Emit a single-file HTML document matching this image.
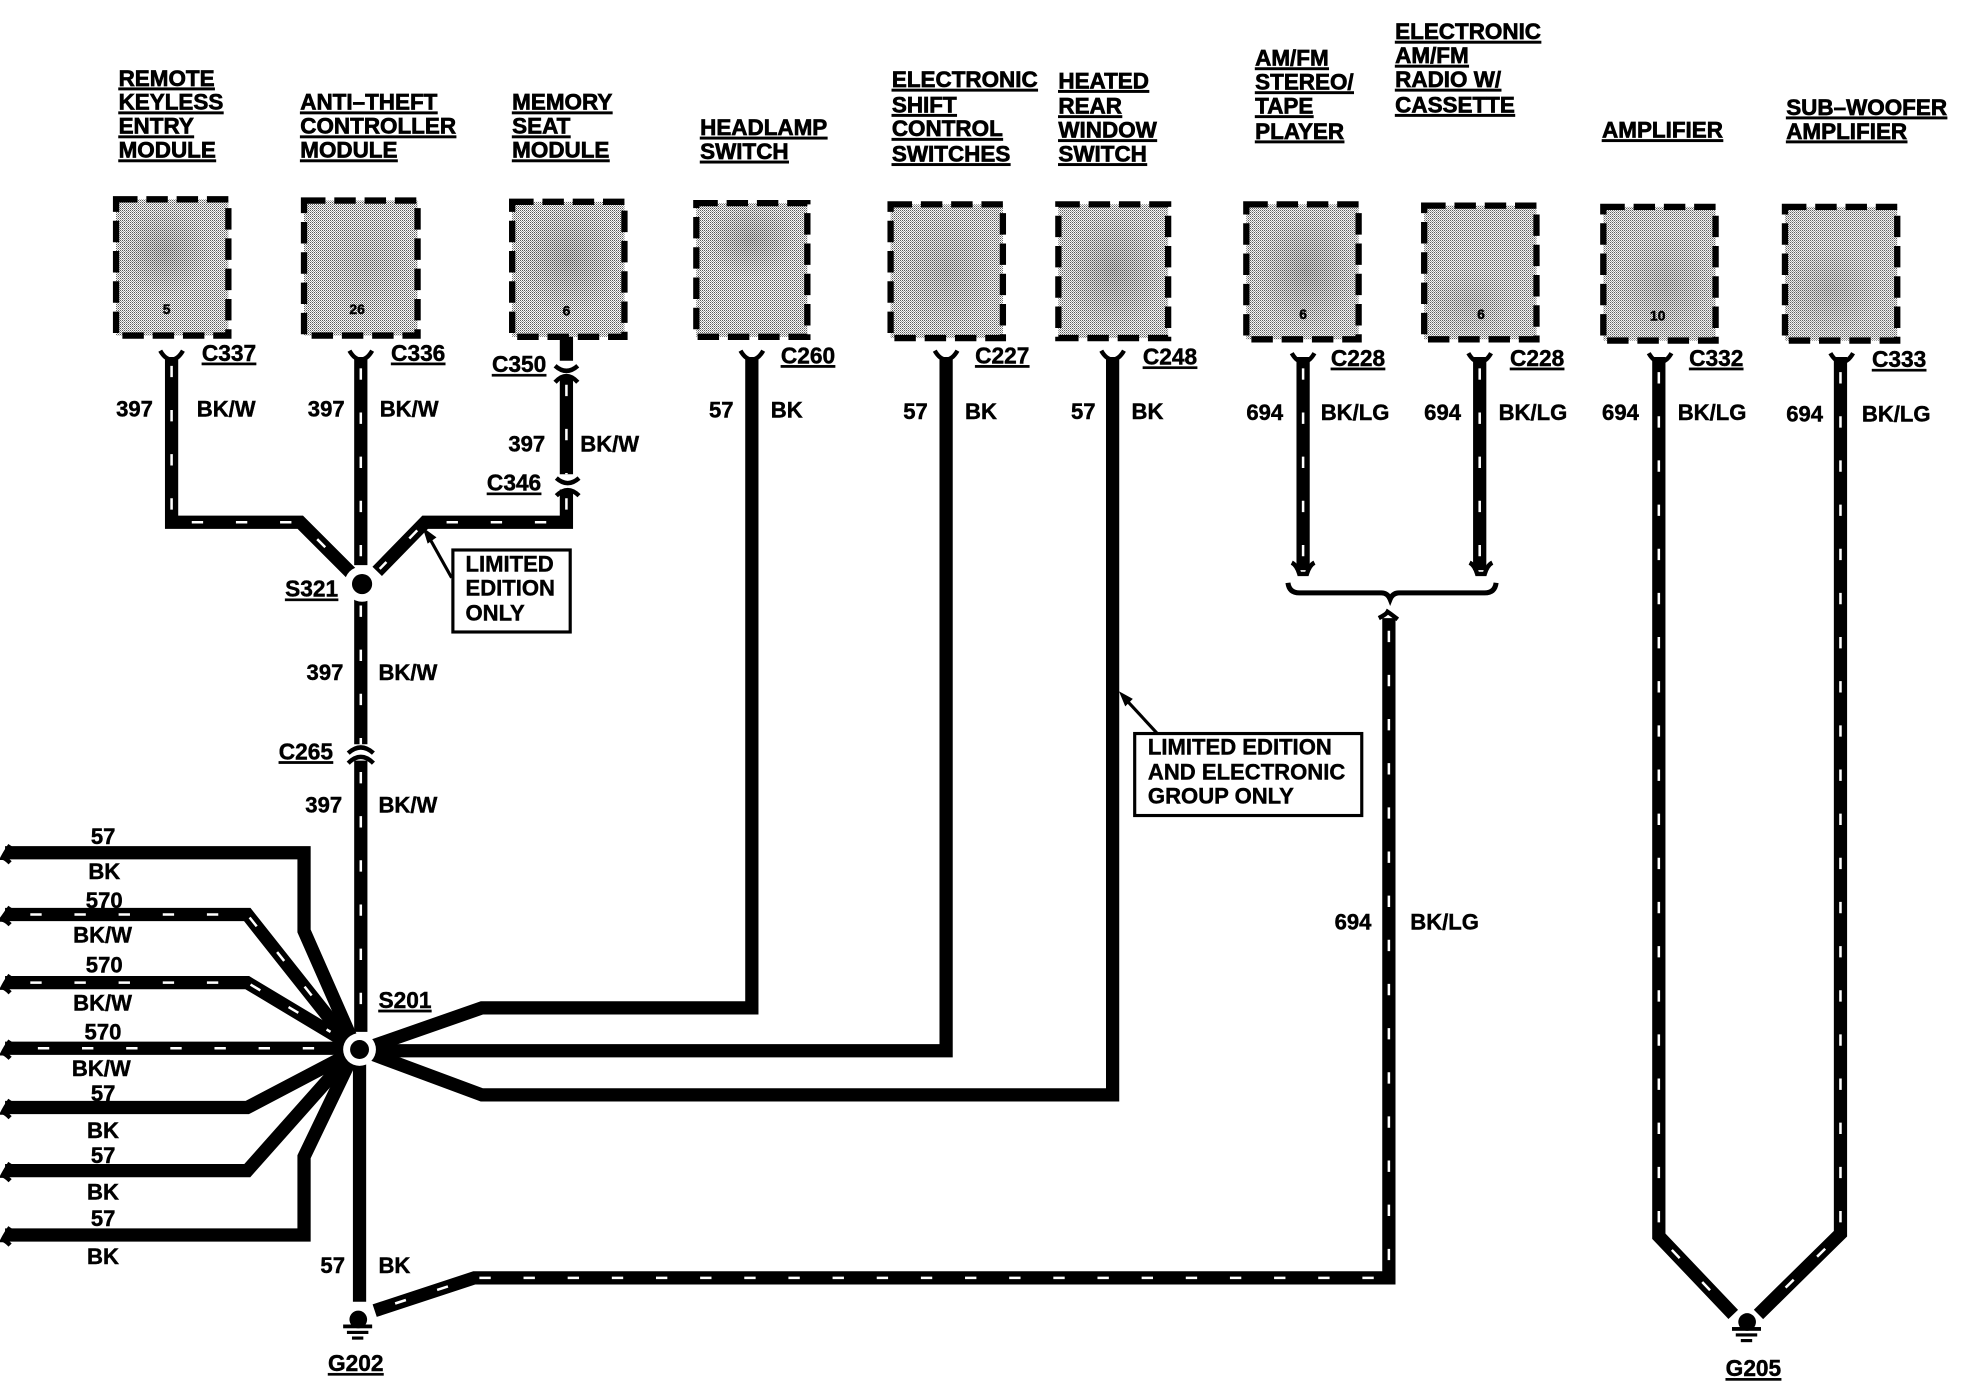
<!DOCTYPE html>
<html><head><meta charset="utf-8"><style>
html,body{margin:0;padding:0;background:#fff;width:1978px;height:1392px;overflow:hidden}
svg{display:block}
text{font-family:"Liberation Sans",sans-serif;font-weight:bold;fill:#000;stroke:#000;stroke-width:.35}
.h{font-size:17.8px;text-decoration:underline;stroke-width:.55}
.c{font-size:18px;text-decoration:underline}
.l{font-size:17.5px}
.n{font-size:11px}
.w{fill:none;stroke:#000;stroke-width:10.5;stroke-linejoin:miter}
.t{fill:none;stroke:#fff;stroke-width:2;stroke-dasharray:9 26}
.b{fill:url(#ht);stroke:#000;stroke-width:5;stroke-dasharray:17 7}
.f{fill:none;stroke:#000;stroke-width:3.5}
</style></head><body>
<svg xmlns="http://www.w3.org/2000/svg" width="1978" height="1392" viewBox="0 0 1568 1103.5">
<defs>
<pattern id="ht" patternUnits="userSpaceOnUse" width="1.5854" height="1.5854">
<rect width="1.5854" height="1.5854" fill="#fff"/>
<rect width=".7927" height=".7927" fill="#555"/>
<rect x=".7927" y=".7927" width=".7927" height=".7927" fill="#999"/>
</pattern>
<radialGradient id="m"><stop offset="0" stop-color="#000" stop-opacity=".17"/><stop offset="1" stop-color="#000" stop-opacity="0"/></radialGradient>
<g id="fork"><path class="f" d="M-9 -5 Q-5 2 0 2 Q5 2 9 -5"/></g>
</defs>
<rect width="1568" height="1104" fill="#fff"/>

<!-- module boxes -->
<rect class="b" x="92" y="158" width="89" height="108"/>
<rect class="b" x="241" y="159" width="90" height="107"/>
<rect class="b" x="406" y="160" width="89" height="107"/>
<rect class="b" x="552" y="161" width="88" height="106"/>
<rect class="b" x="706" y="162" width="89" height="106"/>
<rect class="b" x="839" y="162" width="87" height="106"/>
<rect class="b" x="988" y="162" width="89" height="107"/>
<rect class="b" x="1129" y="163" width="89" height="106"/>
<rect class="b" x="1271" y="164" width="89" height="106"/>
<rect class="b" x="1415" y="164" width="89" height="106"/>
<ellipse cx="130" cy="200" rx="36" ry="36" fill="url(#m)"/>
<ellipse cx="290" cy="210" rx="38" ry="40" fill="url(#m)" opacity=".5"/>
<ellipse cx="450" cy="205" rx="42" ry="44" fill="url(#m)"/>
<ellipse cx="595" cy="190" rx="36" ry="30" fill="url(#m)"/>
<ellipse cx="750" cy="215" rx="40" ry="48" fill="url(#m)" opacity=".7"/>
<ellipse cx="882" cy="215" rx="40" ry="48" fill="url(#m)"/>
<ellipse cx="1035" cy="215" rx="40" ry="48" fill="url(#m)"/>
<ellipse cx="1165" cy="240" rx="36" ry="28" fill="url(#m)" opacity=".6"/>
<ellipse cx="1320" cy="225" rx="38" ry="42" fill="url(#m)" opacity=".7"/>
<ellipse cx="1450" cy="230" rx="38" ry="36" fill="url(#m)" opacity=".7"/>

<!-- wires -->
<path class="w" d="M136 283 V414 H238 L278 454"/>
<path class="w" d="M286 283 V448"/>
<path class="w" d="M286 475 V590"/>
<path class="w" d="M286 603 V818"/>
<path class="w" d="M449 267 V286"/>
<path class="w" d="M449 298 V376"/>
<path class="w" d="M449 388 V414 H337 L299 453"/>
<path class="w" d="M596 283 V799 H382 L296 829"/>
<path class="w" d="M750 283 V833 H296"/>
<path class="w" d="M882 283 V868 H382 L296 836"/>
<path class="w" d="M1033 283 V452"/>
<path class="w" d="M1173 283 V452"/>
<path class="w" d="M1315 283 V980 L1374 1042"/>
<path class="w" d="M1459 283 V978 L1394 1042"/>
<path class="w" d="M1101 490 V1013 H376 L297 1039"/>
<path class="w" d="M285 843 V1032"/>
<path class="w" d="M4 676 H241 V738 L278 822"/>
<path class="w" d="M4 725 H196 L276 826"/>
<path class="w" d="M4 779 H196 L276 827"/>
<path class="w" d="M4 831 H276"/>
<path class="w" d="M4 878 H196 L276 836"/>
<path class="w" d="M4 928 H196 L276 838"/>
<path class="w" d="M4 979 H241 V917 L278 840"/>

<!-- tracer ticks -->
<path class="t" d="M136 290 V414 H238 L276 452"/>
<path class="t" d="M286 292 V448"/>
<path class="t" d="M286 480 V590"/>
<path class="t" d="M286 612 V805"/>
<path class="t" d="M449 305 V376"/>
<path class="t" d="M449 395 V414 H337 L301 451"/>
<path class="t" d="M1033 292 V448"/>
<path class="t" d="M1173 292 V448"/>
<path class="t" d="M1315 295 V980 L1370 1038"/>
<path class="t" d="M1459 295 V978 L1398 1038"/>
<path class="t" d="M1101 500 V1013 H376 L305 1036"/>
<path class="t" d="M24 725 H196 L262 808"/>
<path class="t" d="M24 779 H196 L262 818"/>
<path class="t" d="M30 831 H262"/>

<!-- connector forks -->
<use href="#fork" x="136" y="283"/><use href="#fork" x="286" y="283"/><use href="#fork" x="596" y="283"/>
<use href="#fork" x="750" y="283"/><use href="#fork" x="882" y="283"/><use href="#fork" x="1033" y="285"/>
<use href="#fork" x="1173" y="285"/><use href="#fork" x="1316" y="285"/><use href="#fork" x="1460" y="285"/>
<path class="f" d="M440 290 Q449 298 458 290"/><path class="f" d="M440 303 Q449 293 458 303"/>
<path class="f" d="M441 379 Q450 387 459 379"/><path class="f" d="M441 393 Q450 384 459 393"/>
<path class="f" d="M276 597 Q286 588 296 597"/><path class="f" d="M276 605 Q286 595 296 605"/>
<path class="f" d="M1024 446 Q1028 448 1030 455 H1036 Q1038 448 1042 446"/>
<path class="f" d="M1165 446 Q1169 448 1171 455 H1177 Q1179 448 1183 446"/>
<path d="M1021 462 Q1022 470 1030 470 H1095 Q1100 470 1102 475 Q1104 470 1109 470 H1177 Q1185 470 1186 462" fill="none" stroke="#000" stroke-width="4"/>
<path class="f" d="M1093 490 Q1099 487 1100 485 Q1103 487 1108 491"/>

<!-- left wire ends -->
<path class="f" d="M8 670 Q4 676 2 680 Q4 680 8 684"/><path class="f" d="M8 719 Q4 725 1 729 Q4 729 8 733"/>
<path class="f" d="M8 773 Q4 779 2 783 Q4 783 8 787"/><path class="f" d="M8 825 Q4 831 2 835 Q4 835 8 839"/>
<path class="f" d="M8 872 Q4 878 2 882 Q4 882 8 886"/><path class="f" d="M8 922 Q4 928 2 932 Q4 932 8 936"/>
<path class="f" d="M8 973 Q4 979 2 983 Q4 983 8 987"/>

<!-- splices -->
<circle cx="287" cy="463" r="14" fill="#fff"/><circle cx="287" cy="463" r="8" fill="#000"/>
<circle cx="285" cy="832" r="13" fill="#fff"/><circle cx="285" cy="832" r="7.5" fill="#000"/>

<!-- grounds -->
<circle cx="284" cy="1046" r="7" fill="#000"/><rect x="272" y="1050" width="23" height="3"/><rect x="275" y="1055" width="17" height="2.5"/><rect x="279" y="1059.5" width="9" height="2.5"/>
<circle cx="1385" cy="1048" r="7" fill="#000"/><rect x="1373" y="1052" width="23" height="3"/><rect x="1376" y="1057" width="17" height="2.5"/><rect x="1380" y="1061.5" width="9" height="2.5"/>

<!-- callouts -->
<rect x="359" y="436" width="93" height="65" fill="#fff" stroke="#000" stroke-width="2.5"/>
<rect x="899.5" y="581.5" width="180" height="65" fill="#fff" stroke="#000" stroke-width="2.5"/>
<path d="M358 458 L339 424" stroke="#000" stroke-width="2.5" fill="none"/><path d="M335 418 L346 426 L339 431 Z"/>
<path d="M917 581 L892 554" stroke="#000" stroke-width="2.5" fill="none"/><path d="M887 548 L898 554 L892 560 Z"/>
<text class="l" x="369" y="453">LIMITED</text><text class="l" x="369" y="472">EDITION</text><text class="l" x="369" y="492">ONLY</text>
<text class="l" x="910" y="598">LIMITED EDITION</text><text class="l" x="910" y="618">AND ELECTRONIC</text><text class="l" x="910" y="637">GROUP ONLY</text>

<!-- headings -->
<text class="h" x="94" y="68">REMOTE</text><text class="h" x="94" y="87">KEYLESS</text><text class="h" x="94" y="106">ENTRY</text><text class="h" x="94" y="125">MODULE</text>
<text class="h" x="238" y="87">ANTI–THEFT</text><text class="h" x="238" y="106">CONTROLLER</text><text class="h" x="238" y="125">MODULE</text>
<text class="h" x="406" y="87">MEMORY</text><text class="h" x="406" y="106">SEAT</text><text class="h" x="406" y="125">MODULE</text>
<text class="h" x="555" y="107">HEADLAMP</text><text class="h" x="555" y="126">SWITCH</text>
<text class="h" x="707" y="69">ELECTRONIC</text><text class="h" x="707" y="89">SHIFT</text><text class="h" x="707" y="108">CONTROL</text><text class="h" x="707" y="128">SWITCHES</text>
<text class="h" x="839" y="70">HEATED</text><text class="h" x="839" y="90">REAR</text><text class="h" x="839" y="109">WINDOW</text><text class="h" x="839" y="128">SWITCH</text>
<text class="h" x="995" y="52">AM/FM</text><text class="h" x="995" y="71">STEREO/</text><text class="h" x="995" y="90">TAPE</text><text class="h" x="995" y="110">PLAYER</text>
<text class="h" x="1106" y="31">ELECTRONIC</text><text class="h" x="1106" y="50">AM/FM</text><text class="h" x="1106" y="69">RADIO W/</text><text class="h" x="1106" y="89">CASSETTE</text>
<text class="h" x="1270" y="109">AMPLIFIER</text>
<text class="h" x="1416" y="91">SUB–WOOFER</text><text class="h" x="1416" y="110">AMPLIFIER</text>

<!-- pin numbers -->
<text class="n" x="129" y="249">5</text><text class="n" x="277" y="249">26</text><text class="n" x="446" y="250">6</text>
<text class="n" x="1030" y="253">6</text><text class="n" x="1171" y="253">6</text><text class="n" x="1308" y="254">10</text>

<!-- connector ids -->
<text class="c" x="160" y="286">C337</text><text class="c" x="310" y="286">C336</text><text class="c" x="390" y="295">C350</text><text class="c" x="386" y="389">C346</text>
<text class="c" x="619" y="288">C260</text><text class="c" x="773" y="288">C227</text><text class="c" x="906" y="289">C248</text>
<text class="c" x="1055" y="290">C228</text><text class="c" x="1197" y="290">C228</text><text class="c" x="1339" y="290">C332</text><text class="c" x="1484" y="291">C333</text>
<text class="c" x="226" y="473">S321</text><text class="c" x="221" y="602">C265</text><text class="c" x="300" y="799">S201</text>
<text class="c" x="260" y="1087">G202</text><text class="c" x="1368" y="1091">G205</text>

<!-- wire labels -->
<text class="l" x="92" y="330">397</text><text class="l" x="156" y="330">BK/W</text>
<text class="l" x="244" y="330">397</text><text class="l" x="301" y="330">BK/W</text>
<text class="l" x="403" y="358">397</text><text class="l" x="460" y="358">BK/W</text>
<text class="l" x="562" y="331">57</text><text class="l" x="611" y="331">BK</text>
<text class="l" x="716" y="332">57</text><text class="l" x="765" y="332">BK</text>
<text class="l" x="849" y="332">57</text><text class="l" x="897" y="332">BK</text>
<text class="l" x="988" y="333">694</text><text class="l" x="1047" y="333">BK/LG</text>
<text class="l" x="1129" y="333">694</text><text class="l" x="1188" y="333">BK/LG</text>
<text class="l" x="1270" y="333">694</text><text class="l" x="1330" y="333">BK/LG</text>
<text class="l" x="1416" y="334">694</text><text class="l" x="1476" y="334">BK/LG</text>
<text class="l" x="243" y="539">397</text><text class="l" x="300" y="539">BK/W</text>
<text class="l" x="242" y="644">397</text><text class="l" x="300" y="644">BK/W</text>
<text class="l" x="1058" y="737">694</text><text class="l" x="1118" y="737">BK/LG</text>
<text class="l" x="72" y="669">57</text><text class="l" x="70" y="697">BK</text>
<text class="l" x="68" y="720">570</text><text class="l" x="58" y="747">BK/W</text>
<text class="l" x="68" y="771">570</text><text class="l" x="58" y="801">BK/W</text>
<text class="l" x="67" y="824">570</text><text class="l" x="57" y="853">BK/W</text>
<text class="l" x="72" y="873">57</text><text class="l" x="69" y="902">BK</text>
<text class="l" x="72" y="922">57</text><text class="l" x="69" y="951">BK</text>
<text class="l" x="72" y="972">57</text><text class="l" x="69" y="1002">BK</text>
<text class="l" x="254" y="1009">57</text><text class="l" x="300" y="1009">BK</text>
</svg>
</body></html>
